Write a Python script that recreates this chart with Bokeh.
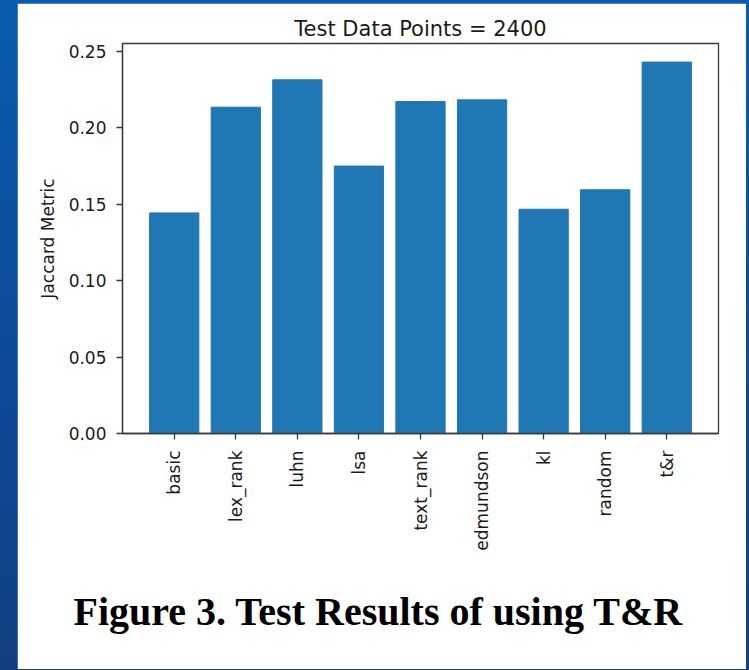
from bokeh.plotting import figure
from bokeh.models import FactorRange, Range1d, FixedTicker, NumeralTickFormatter, Title, Column
from bokeh.embed import file_html
from bokeh.resources import INLINE

# ---- data ----
methods = ["basic", "lex_rank", "luhn", "lsa", "text_rank", "edmundson", "kl", "random", "t&r"]
jaccard = [0.1442, 0.2133, 0.2312, 0.1748, 0.2170, 0.2181, 0.1466, 0.1593, 0.2428]
y_ticks = [0.0, 0.05, 0.10, 0.15, 0.20, 0.25]
title_text = "Test Data Points = 2400"
y_label = "Jaccard Metric"
caption = "Figure 3. Test Results of using T&R"

BAR = "#1f77b4"
TXT = "#1a1a1a"
SPINE = "#3a3a3a"

p = figure(
    x_range=FactorRange(factors=methods, range_padding=0.68 / 9, range_padding_units="percent"),
    y_range=Range1d(0, max(jaccard) * 1.05),
    width=729, height=667,
    frame_width=596, frame_height=389,
    min_border_left=105, min_border_right=28, min_border_top=40, min_border_bottom=10,
    output_backend="svg", toolbar_location=None,
    title=title_text,
)
p.margin = (3, 3, 0, 17)

p.vbar(x=methods, top=jaccard, width=0.8, fill_color=BAR, line_color=BAR)

p.background_fill_color = "white"
p.border_fill_color = "white"
p.outline_line_color = SPINE
p.outline_line_width = 1.3
p.xgrid.visible = False
p.ygrid.visible = False

p.title.align = "center"
p.title.text_font = "DejaVu Sans"
p.title.text_font_size = "21px"
p.title.text_font_style = "normal"
p.title.text_color = TXT
p.title.standoff = 6

for ax in (p.xaxis[0], p.yaxis[0]):
    ax.axis_line_color = SPINE
    ax.axis_line_width = 1.3
    ax.major_tick_line_color = SPINE
    ax.major_tick_line_width = 1.3
    ax.major_tick_out = 6
    ax.major_tick_in = 0
    ax.minor_tick_line_color = None
    ax.major_label_text_font = "DejaVu Sans"
    ax.major_label_text_font_size = "17px"
    ax.major_label_text_color = TXT

p.yaxis.ticker = FixedTicker(ticks=y_ticks)
p.yaxis.formatter = NumeralTickFormatter(format="0.00")
p.yaxis.major_label_standoff = 10
p.yaxis.axis_label = y_label
p.yaxis.axis_label_text_font = "DejaVu Sans"
p.yaxis.axis_label_text_font_size = "17px"
p.yaxis.axis_label_text_font_style = "normal"
p.yaxis.axis_label_text_color = TXT
p.yaxis.axis_label_standoff = 8

p.xaxis.major_label_orientation = 1.5707963
p.xaxis.major_label_standoff = 11

cap = Title(text=caption, align="left", vertical_align="top", text_font="Liberation Serif",
            text_font_style="bold", text_font_size="40px", text_color="#000000",
            standoff=70, offset=-49)
p.add_layout(cap, "below")

root = Column(children=[p], width=749, height=670,
              styles={"background": "linear-gradient(180deg, #0a5bb0 0%, #0d4a98 55%, #123f80 100%)",
                      "position": "absolute", "left": "0px", "top": "0px"})

open("out.html", "w").write(file_html(root, INLINE))
